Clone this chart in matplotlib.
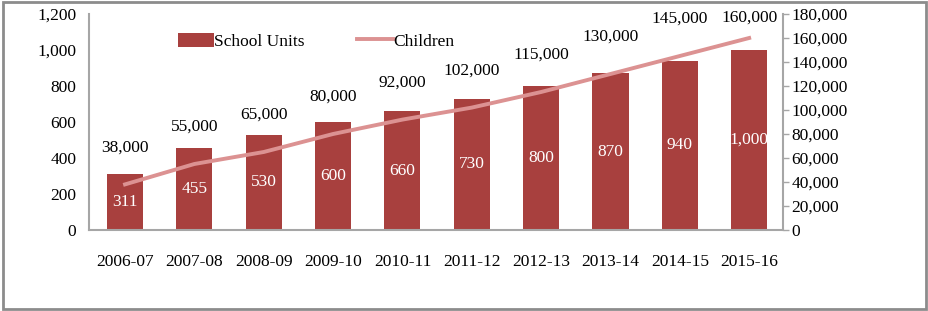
import matplotlib.pyplot as plt
from matplotlib.patches import Rectangle

plt.rcParams['font.family'] = ['Liberation Serif', 'DejaVu Serif']

years = ['2006-07', '2007-08', '2008-09', '2009-10', '2010-11',
         '2011-12', '2012-13', '2013-14', '2014-15', '2015-16']
school_units = [311, 455, 530, 600, 660, 730, 800, 870, 940, 1000]
children = [38000, 55000, 65000, 80000, 92000, 102000, 115000, 130000, 145000, 160000]

bar_color = '#A8403E'
line_color = '#DC9292'
spine_color = '#A6A6A6'
fs = 12.5

fig = plt.figure(figsize=(9.29, 3.11), dpi=100)
ax = fig.add_axes([0.0958, 0.2605, 0.7472, 0.6945])
ax2 = ax.twinx()

x = list(range(len(years)))
bars = ax.bar(x, school_units, width=0.52, color=bar_color, label='School Units', zorder=2)
line, = ax2.plot(x, children, color=line_color, lw=2.8, label='Children', zorder=3)

ax.set_xlim(-0.52, 9.49)
ax.set_ylim(0, 1200)
ax2.set_ylim(0, 180000)
ax.set_yticks(range(0, 1201, 200))
ax2.set_yticks(range(0, 180001, 20000))
ax.set_xticks(x)
ax.set_xticklabels(years)

fmt = lambda v, p: '{:,.0f}'.format(v)
ax.yaxis.set_major_formatter(plt.FuncFormatter(fmt))
ax2.yaxis.set_major_formatter(plt.FuncFormatter(fmt))

ax.tick_params(axis='x', length=0, pad=17, labelsize=fs)
ax.tick_params(axis='y', length=0, pad=9, labelsize=fs)
ax2.tick_params(axis='y', length=4, width=1, color=spine_color, pad=2, labelsize=fs)

for a in (ax, ax2):
    a.spines['top'].set_visible(False)
    for s in ('left', 'right', 'bottom'):
        a.spines[s].set_color(spine_color)
        a.spines[s].set_linewidth(1.5)
ax2.spines['left'].set_visible(False)
ax2.spines['bottom'].set_visible(False)
ax.spines['right'].set_visible(False)

# value labels inside bars
for xi, v in zip(x, school_units):
    ax.text(xi, v / 2, '{:,}'.format(v), ha='center', va='center',
            color='white', fontsize=fs, zorder=4)

# children labels above the line
for xi, v in zip(x, children):
    ypos = min(v + 31000, 177000)
    ax2.text(xi, ypos, '{:,}'.format(v), ha='center', va='center',
             color='black', fontsize=fs, zorder=4)

handles = [bars, line]
ax.legend(handles, [h.get_label() for h in handles], loc='upper left',
          bbox_to_anchor=(0.105, 0.985), ncol=2, frameon=False, fontsize=fs,
          handlelength=2.1, handletextpad=0.0, columnspacing=3.0, handleheight=0.9)

# outer frame
fig.patches.append(Rectangle((0.003, 0.006), 0.994, 0.988, transform=fig.transFigure,
                             fill=False, edgecolor='#8C8C8C', lw=2))

fig.savefig('out.png', dpi=100)
